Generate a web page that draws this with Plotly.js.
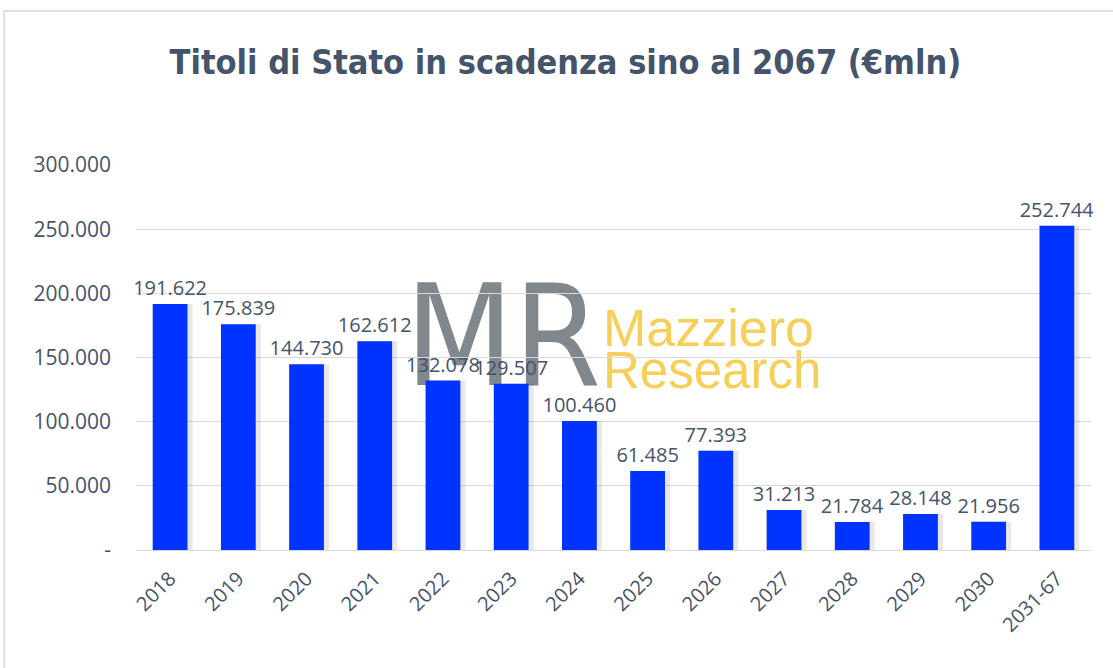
<!DOCTYPE html>
<html>
<head>
<meta charset="utf-8">
<script src="https://cdn.plot.ly/plotly-3.0.1.min.js"></script>
<style>html,body{margin:0;padding:0;background:#fff;}#chart{width:1113px;height:668px;}</style>
</head>
<body>
<div id="chart"></div>
<script>
const categories = ["2018","2019","2020","2021","2022","2023","2024","2025","2026","2027","2028","2029","2030","2031-67"];
const values = [191622,175839,144730,162612,132078,129507,100460,61485,77393,31213,21784,28148,21956,252744];
const yTickVals = [0,50000,100000,150000,200000,250000,300000];
const yTickText = ["-","50.000","100.000","150.000","200.000","250.000","300.000"];

const textColor = "#44546A";

const shadow = {
  type: "bar", x: categories, y: values,
  width: 0.55, offset: -0.22,
  marker: {color: "rgba(0,0,0,0.09)", line: {width: 0}},
  hoverinfo: "skip", showlegend: false
};
const bars = {
  type: "bar", x: categories, y: values,
  width: 0.51, offset: -0.255,
  marker: {color: "#0033FF", line: {width: 0}},
  texttemplate: "%{y:,.0f}", textposition: "outside", constraintext: "none",
  textfont: {family: "Open Sans, sans-serif", size: 20, color: textColor},
  cliponaxis: false, showlegend: false
};

// watermark logo as an SVG image placed beneath the bars and labels
const logoSvg =
  '<svg xmlns="http://www.w3.org/2000/svg" width="420" height="130" viewBox="0 0 420 130">' +
  '<text x="93" y="115" text-anchor="middle" font-family="DejaVu Sans Condensed, sans-serif" font-size="140" fill="#7A8187">MR</text>' +
  '<text x="193" y="76" font-family="Liberation Sans, Arial, sans-serif" font-size="52" fill="#F6CD50">Mazziero</text>' +
  '<text x="193" y="118" font-family="Liberation Sans, Arial, sans-serif" font-size="51" fill="#F6CD50">Research</text>' +
  '</svg>';

const layout = {
  width: 1113, height: 668,
  paper_bgcolor: "#fff", plot_bgcolor: "#fff",
  separators: ",.",
  margin: {l: 136, r: 22, t: 165, b: 118},
  barmode: "overlay",
  title: {
    text: "<b>Titoli di Stato in scadenza sino al 2067 (€mln)</b>",
    font: {family: "DejaVu Sans Condensed, sans-serif", size: 34, color: textColor},
    x: 0.508, xref: "container", xanchor: "center",
    y: 0.907, yref: "container", yanchor: "middle"
  },
  xaxis: {
    type: "category", tickangle: -45,
    tickfont: {family: "Open Sans, sans-serif", size: 20, color: textColor},
    showgrid: false, showline: true, linecolor: "#D9D9D9", linewidth: 1,
    ticks: "", ticklabelstandoff: 8
  },
  yaxis: {
    range: [0, 300000], tickvals: yTickVals, ticktext: yTickText,
    tickfont: {family: "Open Sans, sans-serif", size: 21, color: textColor},
    showgrid: true, gridcolor: "#D9D9D9", gridwidth: 1,
    zeroline: true, zerolinecolor: "#D9D9D9", zerolinewidth: 1,
    showline: false, ticks: "", ticklabelstandoff: 24
  },
  images: [{
    source: "data:image/svg+xml;charset=utf-8," + encodeURIComponent(logoSvg),
    xref: "paper", yref: "paper",
    x: (410 - 136) / 955, y: (550 - 270) / 385,
    sizex: 420 / 955, sizey: 130 / 385,
    xanchor: "left", yanchor: "top", sizing: "stretch", layer: "below", opacity: 0.95
  }],
  shapes: [{
    type: "rect", xref: "paper", yref: "paper",
    x0: -0.138, x1: 1.1, y0: -0.5, y1: 1.4,
    line: {color: "#DCE1E8", width: 2}, fillcolor: "rgba(0,0,0,0)", layer: "below"
  }]
};

Plotly.newPlot("chart", [shadow, bars], layout, {displayModeBar: false, staticPlot: true});
</script>
</body>
</html>
